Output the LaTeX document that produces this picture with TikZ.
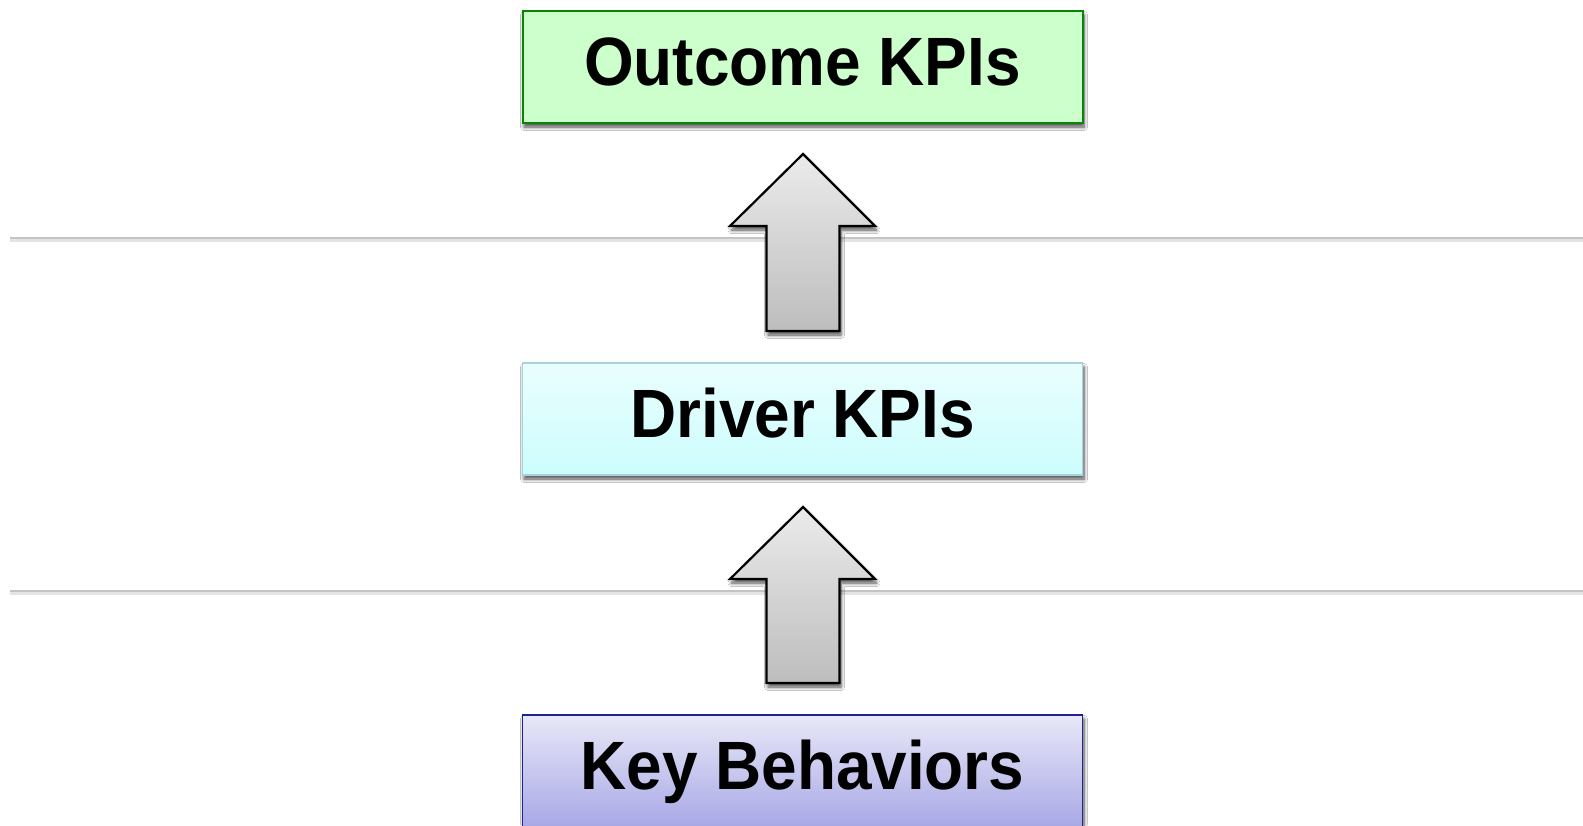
\documentclass[tikz,border=0pt]{standalone}
\usepackage{graphicx}
\usepackage{fontspec}
\newfontfamily\labelfont{Liberation Sans}
\usetikzlibrary{shadows.blur}

\definecolor{outfill}{HTML}{CCFFCC}
\definecolor{outedge}{HTML}{078507}
\definecolor{drvtop}{HTML}{EAFEFE}
\definecolor{drvbot}{HTML}{CCFDFD}
\definecolor{drvedge}{HTML}{A6D4DA}
\definecolor{keytop}{HTML}{E8E8F8}
\definecolor{keybot}{HTML}{A8A8E6}
\definecolor{keyedge}{HTML}{22228E}
\definecolor{arrtop}{HTML}{EBEBEB}
\definecolor{arrbot}{HTML}{BDBDBD}
\definecolor{rule}{HTML}{C4C4C4}

\tikzset{
  softshadow/.style={blur shadow={shadow xshift=1.5pt, shadow yshift=-4pt,
      shadow blur steps=8, shadow opacity=70, shadow blur radius=3.5pt}},
  levelbox/.style={rectangle, minimum width=560pt, minimum height=112pt,
    inner sep=0pt, text height=50pt, text depth=13.6pt,
    font=\labelfont\bfseries\fontsize{63.9}{70}\selectfont, softshadow},
  outcome/.style={levelbox, fill=outfill, draw=outedge, line width=2pt},
  driver/.style={levelbox, top color=drvtop, bottom color=drvbot, draw=drvedge, line width=1.6pt},
  behavior/.style={levelbox, top color=keytop, bottom color=keybot, draw=keyedge, line width=1.6pt},
  blockarrow/.style={draw=black, line width=2.2pt, line join=miter,
    top color=arrtop, bottom color=arrbot, softshadow},
  divider/.style={draw=rule, line width=2.6pt},
  dividershade/.style={draw=rule!45, line width=3pt},
}

\newcommand{\tall}[1]{\scalebox{1}[1.07]{#1}}

\begin{document}
\begin{tikzpicture}[x=1pt, y=-1pt]
  \useasboundingbox[fill=white] (0,0) rectangle (1583,825);

  % horizontal dividers between the levels
  \coordinate (d1l) at (10,238);  \coordinate (d1r) at (1583,238);
  \coordinate (d2l) at (10,591);  \coordinate (d2r) at (1583,591);
  \draw[dividershade] ([yshift=-2.5pt]d1l) -- ([yshift=-2.5pt]d1r);
  \draw[dividershade] ([yshift=-2.5pt]d2l) -- ([yshift=-2.5pt]d2r);
  \draw[divider] (d1l) -- (d1r);
  \draw[divider] (d2l) -- (d2r);

  % the three levels
  \node[outcome]  (outcome)  at (802.5,67)  {\tall{Outcome KPIs}};
  \node[driver]   (driver)   at (802.5,419) {\tall{Driver KPIs}};
  \node[behavior] (behavior) at (802.5,771) {\tall{Key Behaviors}};

  % upward block arrows
  \foreach \tip/\base in {154/331, 507/683}{
    \path[blockarrow] (803,\tip) -- (875,\tip+72) -- (839.5,\tip+72) -- (839.5,\base)
      -- (766.5,\base) -- (766.5,\tip+72) -- (730,\tip+72) -- cycle;
  }
\end{tikzpicture}
\end{document}
